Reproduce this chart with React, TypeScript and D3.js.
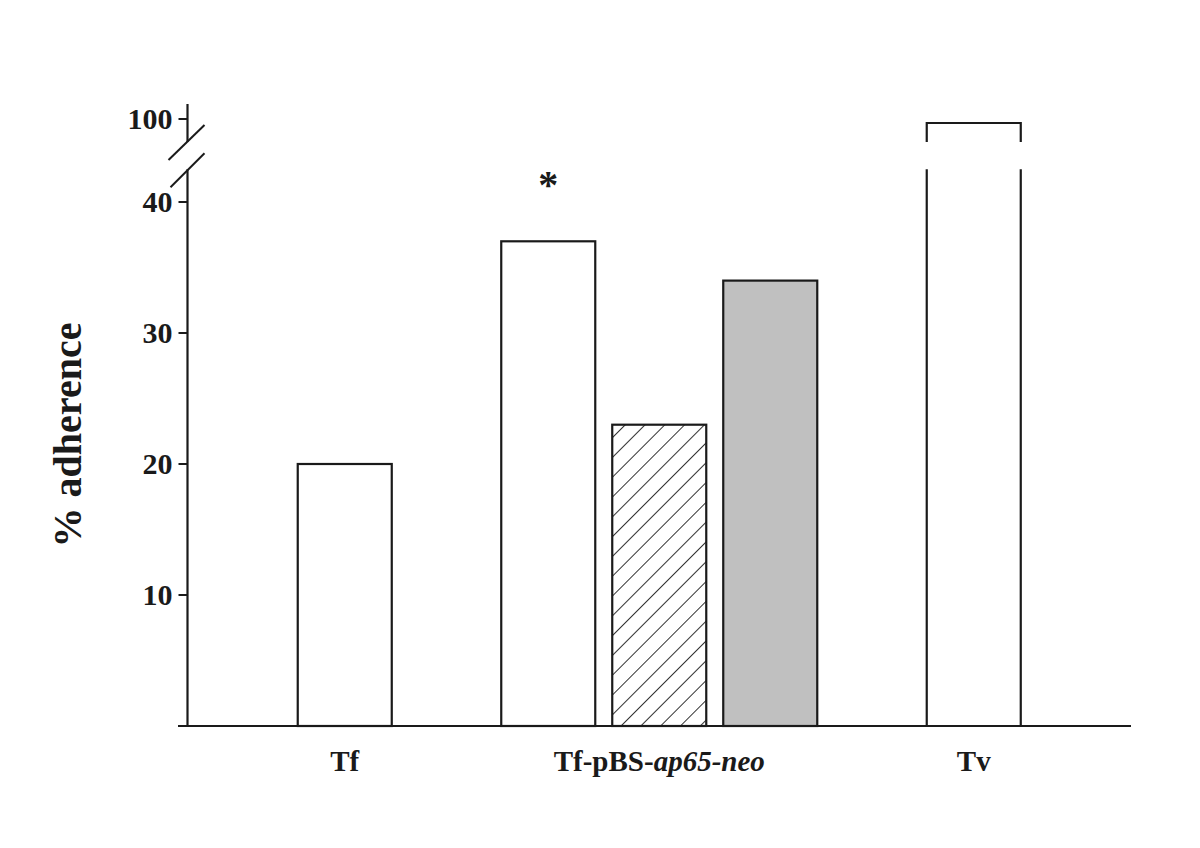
import { useMemo } from "react";
import * as d3 from "d3";

// categories along the x axis
const categories = ["Tf", "Tf-pBS-ap65-neo", "Tv"];

// % adherence per bar in each category
const tfValues = [20];
const constructValues = [37, 23, 34];
const tvValues = [98];

// fill style per bar, same order as the values
const tfFills = ["open"];
const constructFills = ["open", "hatch", "gray"];
const tvFills = ["open"];

// y ticks below and above the axis break
const lowerTicks = [10, 20, 30, 40];
const upperTicks = [100];

const width = 1200;
const height = 848;
const axisX = 187.5;
const baseY = 726;
const font = "'Liberation Serif', 'Times New Roman', serif";
const ink = "#1a1a1a";

const App = () => {
  // lower part of the axis, 0 - 42.5
  const yLow = d3.scaleLinear([0, 42.5], [baseY, 169.25]);
  // upper part of the axis, above the break
  const yUp = d3.scaleLinear([88, 108], [143, 103]);

  const x = d3.scaleBand(categories, [axisX, 1131]).padding(0);

  const groups = useMemo(
    () => [
      { name: categories[0], values: tfValues, fills: tfFills },
      { name: categories[1], values: constructValues, fills: constructFills },
      { name: categories[2], values: tvValues, fills: tvFills },
    ],
    []
  );

  const breakTop = yUp(88.5); // end of upper segment
  const breakBottom = yLow(42.5); // start of lower segment

  const fillFor = (f) =>
    f === "gray" ? "#c0c0c0" : f === "hatch" ? "url(#hatch)" : "white";

  const tickText = (t) => (
    <text
      x={axisX - 15}
      dy="0.34em"
      textAnchor="end"
      fontFamily={font}
      fontWeight="bold"
      fontSize={30}
      fill={ink}
    >
      {t}
    </text>
  );

  return (
    <svg
      width={width}
      height={height}
      viewBox={`0 0 ${width} ${height}`}
      style={{ position: "absolute", left: 0, top: 0, background: "white" }}
    >
      <defs>
        <pattern
          id="hatch"
          width="14"
          height="14"
          patternUnits="userSpaceOnUse"
          patternTransform="rotate(45)"
        >
          <rect width="14" height="14" fill="white" />
          <line x1="0" y1="0" x2="0" y2="14" stroke={ink} strokeWidth="1.8" />
        </pattern>
      </defs>
      <rect width={width} height={height} fill="white" />

      {/* bars */}
      {groups.map((g) => {
        const c = x(g.name) + x.bandwidth() / 2;
        const n = g.values.length;
        const inner = d3
          .scaleBand(d3.range(n), [c - n * 55.5, c + n * 55.5])
          .paddingInner(0.153)
          .paddingOuter(0.0765);
        return g.values.map((v, i) => {
          const x0 = inner(i);
          const w = inner.bandwidth();
          if (v > 42.5) {
            // broken bar: open at the break
            const yt = yUp(v);
            return (
              <g key={g.name + i} fill="none" stroke={ink} strokeWidth={2.2}>
                <path d={`M${x0},${baseY}V${breakBottom}M${x0 + w},${baseY}V${breakBottom}`} />
                <path d={`M${x0},${breakTop}V${yt}H${x0 + w}V${breakTop}`} />
              </g>
            );
          }
          const yt = yLow(v);
          return (
            <rect
              key={g.name + i}
              x={x0}
              y={yt}
              width={w}
              height={baseY - yt}
              fill={fillFor(g.fills[i])}
              stroke={ink}
              strokeWidth={2.2}
            />
          );
        });
      })}

      {/* x axis */}
      <line x1={178} x2={1131} y1={baseY} y2={baseY} stroke={ink} strokeWidth={2.2} />

      {/* y axis, lower and upper segments */}
      <line x1={axisX} x2={axisX} y1={baseY} y2={breakBottom} stroke={ink} strokeWidth={2.2} />
      <line x1={axisX} x2={axisX} y1={yUp(107.5)} y2={breakTop} stroke={ink} strokeWidth={2.2} />
      {/* break marks */}
      <line x1={axisX - 19} x2={axisX + 17} y1={breakTop + 18} y2={breakTop - 17} stroke={ink} strokeWidth={2} />
      <line x1={axisX - 17} x2={axisX + 17} y1={breakBottom + 18} y2={breakBottom - 16} stroke={ink} strokeWidth={2} />

      {/* ticks */}
      {lowerTicks.map((t) => (
        <g key={t} transform={`translate(0,${yLow(t)})`}>
          <line x1={axisX - 9} x2={axisX} stroke={ink} strokeWidth={2} />
          {tickText(t)}
        </g>
      ))}
      {upperTicks.map((t) => (
        <g key={t} transform={`translate(0,${yUp(t)})`}>
          <line x1={axisX - 9} x2={axisX} stroke={ink} strokeWidth={2} />
          {tickText(t)}
        </g>
      ))}

      {/* category labels */}
      {categories.map((cat) => {
        const c = x(cat) + x.bandwidth() / 2;
        const parts = cat.split("-");
        return (
          <text
            key={cat}
            x={c}
            y={771}
            textAnchor="middle"
            fontFamily={font}
            fontWeight="bold"
            fontSize={29}
            fill={ink}
          >
            {parts.length > 2 ? (
              <>
                <tspan>{parts[0] + "-" + parts[1] + "-"}</tspan>
                <tspan fontStyle="italic">{parts.slice(2).join("-")}</tspan>
              </>
            ) : (
              cat
            )}
          </text>
        );
      })}

      {/* significance mark */}
      <text
        x={x(categories[1]) + x.bandwidth() / 2 - 111}
        y={198}
        textAnchor="middle"
        fontFamily={font}
        fontWeight="bold"
        fontSize={40}
        fill={ink}
      >
        *
      </text>

      {/* y axis title */}
      <text
        transform={`translate(81,435) rotate(-90)`}
        textAnchor="middle"
        fontFamily={font}
        fontWeight="bold"
        fontSize={40}
        fill={ink}
      >
        % adherence
      </text>
    </svg>
  );
};

export default App;
